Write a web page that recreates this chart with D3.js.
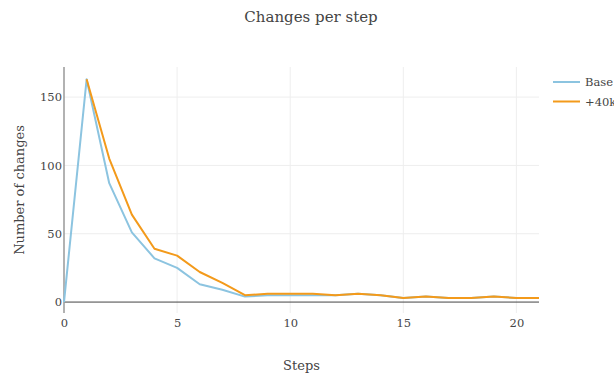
<!DOCTYPE html>
<html>
<head>
<meta charset="utf-8">
<script src="https://cdn.jsdelivr.net/npm/d3@7"></script>
<style>
  html, body { margin: 0; padding: 0; background: #fff; }
  svg { display: block; }
  svg text { font-family: "DejaVu Serif", "Liberation Serif", serif; }
</style>
</head>
<body>
<svg id="chart" width="614" height="379"></svg>
<script>
// Number of changes recorded at each step, per configuration
const baseSteps = [0, 1, 2, 3, 4, 5, 6, 7, 8, 9, 10, 11, 12, 13, 14, 15, 16, 17, 18, 19, 20, 21];
const baseValues = [0, 163, 87, 51, 32, 25, 13, 9, 4, 5, 5, 5, 5, 6, 5, 3, 4, 3, 3, 4, 3, 3];
const plusSteps = [1, 2, 3, 4, 5, 6, 7, 8, 9, 10, 11, 12, 13, 14, 15, 16, 17, 18, 19, 20, 21];
const plusValues = [163, 105, 64, 39, 34, 22, 14, 5, 6, 6, 6, 5, 6, 5, 3, 4, 3, 3, 4, 3, 3];
const seriesNames = ["Base", "+40k"];
const xTicks = [0, 5, 10, 15, 20];
const yTicks = [0, 50, 100, 150];

const svg = d3.select("#chart");
const plot = { left: 64, right: 539, top: 67, bottom: 313 };

const x = d3.scaleLinear().domain([0, 21]).range([plot.left, plot.right]);
const y = d3.scaleLinear().domain([-8, 172]).range([plot.bottom, plot.top]);

// grid
const grid = svg.append("g");
grid.selectAll(".vg").data(xTicks.filter(d => d !== 0)).join("line")
  .attr("x1", d => x(d)).attr("x2", d => x(d))
  .attr("y1", plot.top).attr("y2", plot.bottom)
  .attr("stroke", "#eeeeee").attr("stroke-width", 1);
grid.selectAll(".hg").data(yTicks.filter(d => d !== 0)).join("line")
  .attr("x1", plot.left).attr("x2", plot.right)
  .attr("y1", d => y(d)).attr("y2", d => y(d))
  .attr("stroke", "#eeeeee").attr("stroke-width", 1);

// zero line
svg.append("line")
  .attr("x1", plot.left).attr("x2", plot.right)
  .attr("y1", y(0)).attr("y2", y(0))
  .attr("stroke", "#444").attr("stroke-width", 1);

// y axis line
svg.append("line")
  .attr("x1", plot.left).attr("x2", plot.left)
  .attr("y1", plot.top).attr("y2", plot.bottom)
  .attr("stroke", "#999").attr("stroke-width", 1.5);

// axes (labels only)
const xAxis = d3.axisBottom(x).tickValues(xTicks).tickSize(0).tickPadding(6);
const gx = svg.append("g").attr("transform", `translate(0,${plot.bottom})`).call(xAxis);
gx.attr("font-family", null).attr("font-size", null);
gx.select(".domain").remove();
gx.selectAll("text").attr("fill", "#444").style("font-size", "11.5px");

const yAxis = d3.axisLeft(y).tickValues(yTicks).tickSize(0).tickPadding(2);
const gy = svg.append("g").attr("transform", `translate(${plot.left},0)`).call(yAxis);
gy.attr("font-family", null).attr("font-size", null);
gy.select(".domain").remove();
gy.selectAll("text").attr("fill", "#444").style("font-size", "11.5px");

// lines
const colors = ["#8cc4e0", "#f39a1b"];
const line = d3.line().x(d => x(d[0])).y(d => y(d[1]));
const series = [
  d3.zip(baseSteps, baseValues),
  d3.zip(plusSteps, plusValues)
];
svg.append("g").selectAll("path").data(series).join("path")
  .attr("d", line)
  .attr("fill", "none")
  .attr("stroke", (d, i) => colors[i])
  .attr("stroke-width", 2)
  .attr("stroke-linejoin", "round");

// title and axis titles
svg.append("text").attr("x", 311).attr("y", 22).attr("text-anchor", "middle")
  .style("font-size", "15px").attr("fill", "#444").text("Changes per step");
svg.append("text").attr("x", (plot.left + plot.right) / 2).attr("y", 370)
  .attr("text-anchor", "middle").style("font-size", "13px").attr("fill", "#444").text("Steps");
svg.append("text")
  .attr("transform", `translate(24,${(plot.top + plot.bottom) / 2}) rotate(-90)`)
  .attr("text-anchor", "middle").style("font-size", "13px").attr("fill", "#444")
  .text("Number of changes");

// legend
const legend = svg.append("g");
seriesNames.forEach((name, i) => {
  const ly = 82 + i * 19.5;
  legend.append("line").attr("x1", 553).attr("x2", 580).attr("y1", ly).attr("y2", ly)
    .attr("stroke", colors[i]).attr("stroke-width", 2);
  legend.append("text").attr("x", 585).attr("y", ly + 4)
    .style("font-size", "11.5px").attr("fill", "#444").text(name);
});
</script>
</body>
</html>
